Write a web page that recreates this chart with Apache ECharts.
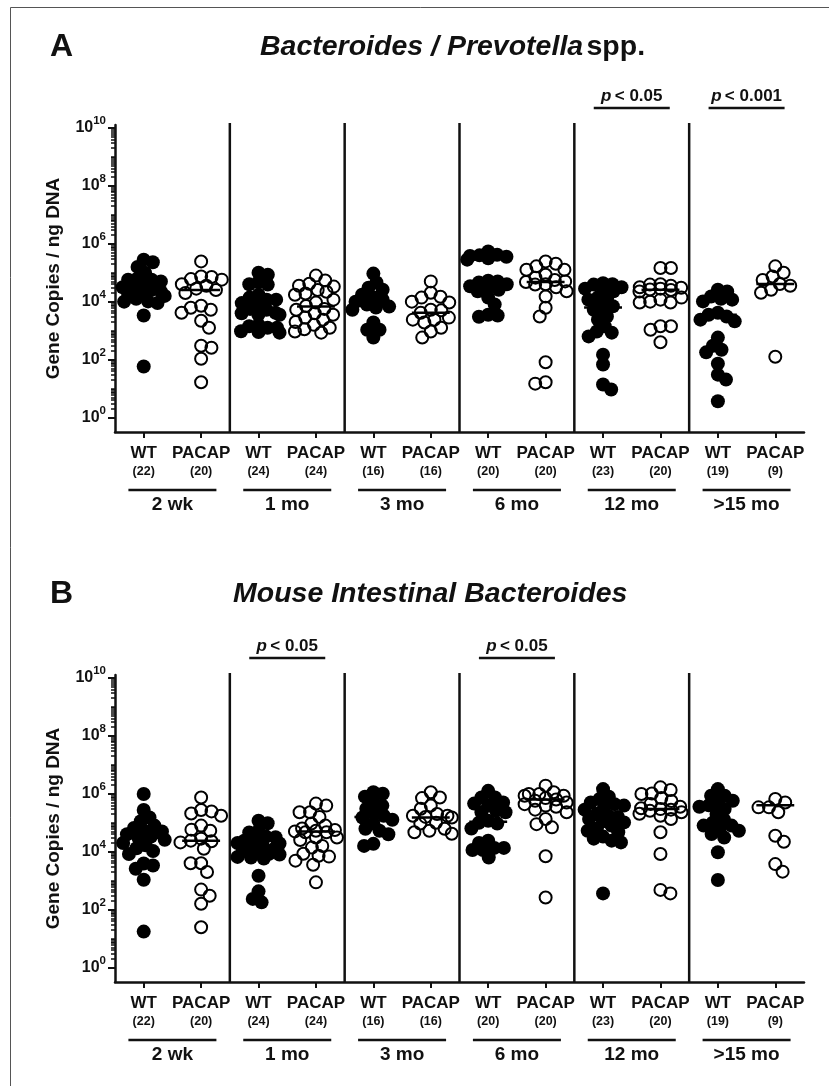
<!DOCTYPE html>
<html><head><meta charset="utf-8">
<script src="https://cdn.jsdelivr.net/npm/echarts@6/dist/echarts.min.js"></script>
<style>html,body{margin:0;padding:0;background:#fff}#c{width:829px;height:1086px}</style>
</head><body><div id="c"></div>
<script>
// ---------- DATA (values are log10 of gene copies / ng DNA) ----------
const ageGroups = ['2 wk', '1 mo', '3 mo', '6 mo', '12 mo', '>15 mo'];
const genotypes = ['WT', 'PACAP'];
const nWT = [22, 24, 16, 20, 23, 19];
const nPACAP = [20, 24, 16, 20, 20, 9];
const yTickExponents = [0, 2, 4, 6, 8, 10];

// Panel A: Bacteroides / Prevotella spp.
const bpWT = [
  [5.45,5.36,5.2,5.0,4.8,4.76,4.76,4.7,4.6,4.5,4.45,4.4,4.36,4.3,4.3,4.2,4.1,4.01,4.0,3.95,3.52,1.76],
  [5.0,4.93,4.67,4.6,4.59,4.24,4.14,4.07,4.07,3.95,3.9,3.75,3.72,3.62,3.6,3.55,3.55,3.2,3.15,3.1,3.1,2.98,2.95,2.93],
  [4.97,4.66,4.48,4.41,4.24,4.14,4.07,4.0,3.9,3.83,3.8,3.72,3.28,3.03,3.03,2.76],
  [5.73,5.62,5.6,5.58,5.55,5.5,5.45,4.72,4.7,4.66,4.6,4.53,4.5,4.41,4.36,4.14,3.9,3.55,3.52,3.48],
  [4.64,4.6,4.59,4.5,4.45,4.41,4.36,4.14,4.1,4.07,3.84,3.79,3.72,3.49,3.38,3.15,2.97,2.93,2.8,2.17,1.83,1.14,0.97],
  [4.41,4.35,4.18,4.1,4.07,4.01,3.62,3.55,3.49,3.38,3.32,2.76,2.48,2.34,2.25,1.86,1.48,1.31,0.56]
];
const bpPACAP = [
  [5.39,4.87,4.85,4.78,4.76,4.6,4.55,4.45,4.4,4.3,3.86,3.79,3.72,3.62,3.34,3.1,2.48,2.41,2.03,1.22],
  [4.9,4.73,4.62,4.55,4.52,4.4,4.34,4.28,4.24,4.07,3.97,3.85,3.75,3.72,3.6,3.55,3.45,3.38,3.3,3.2,3.1,3.05,2.97,2.93],
  [4.7,4.31,4.17,4.14,4.0,3.97,3.72,3.7,3.62,3.45,3.38,3.38,3.28,3.1,2.97,2.76],
  [5.39,5.31,5.22,5.1,5.1,4.93,4.83,4.75,4.7,4.68,4.6,4.59,4.5,4.36,4.18,3.79,3.49,1.91,1.22,1.17],
  [5.16,5.16,4.6,4.59,4.55,4.5,4.48,4.45,4.42,4.4,4.35,4.14,4.07,4.0,3.97,3.97,3.15,3.15,3.03,2.6],
  [5.22,5.0,4.87,4.75,4.61,4.55,4.41,4.31,2.1]
];
const bpMedianWT = [4.4, 3.7, 3.85, 4.63, 3.8, 3.55];
const bpMedianPACAP = [4.4, 3.83, 3.62, 4.68, 4.41, 4.61];
const bpPLabels = ['', '', '', '', '< 0.05', '< 0.001'];

// Panel B: Mouse Intestinal Bacteroides
const mibWT = [
  [5.99,5.44,5.18,5.05,4.9,4.82,4.73,4.7,4.6,4.52,4.45,4.41,4.3,4.22,4.12,4.02,3.92,3.59,3.52,3.41,3.03,1.24],
  [5.07,4.98,4.72,4.66,4.52,4.5,4.41,4.38,4.3,4.28,4.2,4.13,4.1,4.02,4.0,3.93,3.9,3.82,3.8,3.76,3.17,2.63,2.37,2.25],
  [6.05,6.0,5.9,5.7,5.59,5.48,5.31,5.24,5.18,5.1,4.97,4.79,4.72,4.6,4.27,4.2],
  [6.1,5.87,5.87,5.7,5.66,5.59,5.41,5.36,5.36,5.07,5.0,4.97,4.8,4.38,4.3,4.13,4.13,4.06,4.06,3.8],
  [6.16,5.9,5.82,5.7,5.64,5.59,5.53,5.45,5.31,5.24,5.2,5.13,5.05,5.01,4.9,4.8,4.72,4.67,4.52,4.45,4.38,4.32,2.56],
  [6.16,5.93,5.93,5.76,5.7,5.6,5.55,5.47,5.3,5.1,5.0,4.9,4.9,4.78,4.72,4.61,4.49,3.98,3.02]
];
const mibPACAP = [
  [5.87,5.44,5.39,5.32,5.24,4.9,4.76,4.72,4.45,4.38,4.36,4.32,4.1,3.6,3.6,3.3,2.69,2.48,2.2,1.39],
  [5.66,5.59,5.36,5.36,5.2,4.97,4.9,4.8,4.75,4.72,4.7,4.67,4.67,4.49,4.49,4.4,4.2,4.14,3.93,3.86,3.83,3.69,3.55,2.94],
  [6.05,5.87,5.85,5.59,5.48,5.3,5.24,5.24,5.2,5.18,5.0,4.97,4.79,4.72,4.67,4.62],
  [6.28,6.05,5.99,5.99,5.93,5.93,5.85,5.8,5.76,5.7,5.64,5.59,5.55,5.45,5.36,5.13,4.95,4.84,3.84,2.42],
  [6.22,6.13,6.01,5.99,5.85,5.75,5.65,5.55,5.5,5.47,5.45,5.41,5.36,5.31,5.24,5.13,4.67,3.92,2.68,2.56],
  [5.82,5.7,5.53,5.53,5.36,4.55,4.34,3.57,3.31]
];
const mibMedianWT = [4.48, 4.12, 5.2, 5.03, 5.1, 5.01];
const mibMedianPACAP = [4.38, 4.7, 5.18, 5.8, 5.47, 5.6];
const mibPLabels = ['', '< 0.05', '', '< 0.05', '', ''];

// ---------- CHART ----------
const FONT = '"Liberation Sans", Arial, Helvetica, sans-serif';
const Y_MIN = -0.5, Y_MAX = 10.1;
const GRID_H = 307, GRID_LEFT = 115, GRID_RIGHT = 25;
const panels = [
  { top: 125, wt: bpWT, pac: bpPACAP, medW: bpMedianWT, medP: bpMedianPACAP, p: bpPLabels },
  { top: 675, wt: mibWT, pac: mibPACAP, medW: mibMedianWT, medP: mibMedianPACAP, p: mibPLabels }
];
const PX_X = (829 - GRID_LEFT - GRID_RIGHT) / 12;
const PX_Y = GRID_H / (Y_MAX - Y_MIN);

// beeswarm layout (with overlap allowed and max half-width): returns horizontal offsets in category units
function swarm(vals, d, maxHalf) {
  const order = vals.map((v, i) => i).sort((a, b) => vals[b] - vals[a]);
  const placed = [];
  const out = new Array(vals.length);
  order.forEach(i => {
    const y = vals[i] * PX_Y;
    const cands = [0];
    placed.forEach(p => {
      const dy = Math.abs(p.y - y);
      if (dy < d) { const dx = Math.sqrt(d * d - dy * dy); cands.push(p.x + dx, p.x - dx); }
    });
    const bal = placed.reduce((s, p) => s + p.x, 0);
    cands.sort((a, b) => (Math.abs(a) - Math.abs(b)) || ((a * bal) - (b * bal)));
    let x = null;
    for (const c of cands) {
      if (Math.abs(c) > maxHalf + 0.01) continue;
      if (placed.every(p => (p.x - c) * (p.x - c) + (p.y - y) * (p.y - y) >= d * d - 0.01)) { x = c; break; }
    }
    if (x === null) {
      // no free slot within the width: choose the slot with least crowding
      let best = 0, bestScore = Infinity;
      for (let c = -maxHalf; c <= maxHalf + 0.01; c += maxHalf / 4) {
        let s = 0;
        placed.forEach(p => { const dd = Math.hypot(p.x - c, p.y - y); if (dd < d) s += (d - dd); });
        if (s < bestScore) { bestScore = s; best = c; }
      }
      x = best;
    }
    placed.push({ x, y });
    out[i] = x / PX_X;
  });
  return out;
}

const minorTicks = [];
for (let n = 0; n < 10; n++) {
  for (let k = 2; k <= 9; k++) minorTicks.push(n + Math.log10(k));
  if (n % 2 === 1) minorTicks.push(n);
}

const catLabels = [];
for (let g = 0; g < 6; g++) {
  catLabels.push('{a|' + genotypes[0] + '}\n{b|(' + nWT[g] + ')}');
  catLabels.push('{a|' + genotypes[1] + '}\n{b|(' + nPACAP[g] + ')}');
}

const grid = [], xAxis = [], yAxis = [], series = [];

panels.forEach((P, k) => {
  grid.push({ left: GRID_LEFT, right: GRID_RIGHT, top: P.top, height: GRID_H });
  xAxis.push({ type: 'value', gridIndex: k, min: -0.5, max: 11.5, show: false, splitLine: { show: false }, axisLine: { onZero: false } });
  xAxis.push({
    type: 'category', gridIndex: k, position: 'bottom', data: catLabels,
    axisLine: { show: true, onZero: false, lineStyle: { color: '#111', width: 2.5 } },
    axisTick: { show: true, alignWithLabel: true, length: 6, lineStyle: { color: '#111', width: 2 } },
    axisLabel: {
      interval: 0, margin: 12, color: '#111', fontFamily: FONT,
      rich: {
        a: { fontSize: 17, fontWeight: 'bold', lineHeight: 19, fontFamily: FONT, color: '#111' },
        b: { fontSize: 12.5, fontWeight: 'bold', lineHeight: 17, fontFamily: FONT, color: '#111' }
      }
    },
    splitLine: { show: false }
  });
  xAxis.push({
    type: 'category', gridIndex: k, position: 'bottom', offset: 63, data: ageGroups,
    axisLine: { show: false, onZero: false }, axisTick: { show: false },
    axisLabel: { interval: 0, margin: 0, fontSize: 19, fontWeight: 'bold', color: '#111', fontFamily: FONT, lineHeight: 20 },
    splitLine: { show: false }
  });
  yAxis.push({
    type: 'value', gridIndex: k, min: Y_MIN, max: Y_MAX, position: 'left',
    name: 'Gene Copies / ng DNA', nameLocation: 'middle', nameGap: 52,
    nameTextStyle: { fontSize: 19, fontWeight: 'bold', color: '#111', fontFamily: FONT },
    axisLine: { show: true, onZero: false, lineStyle: { color: '#111', width: 2.5 } },
    axisTick: { show: true, length: 7, customValues: yTickExponents, lineStyle: { color: '#111', width: 2 } },
    axisLabel: {
      customValues: yTickExponents, margin: 9, color: '#111',
      formatter: v => '{b|10}{s|' + v + '}',
      rich: {
        b: { fontSize: 16, fontWeight: 'bold', lineHeight: 26, verticalAlign: 'middle', fontFamily: FONT, color: '#111' },
        s: { fontSize: 11.5, fontWeight: 'bold', lineHeight: 12, verticalAlign: 'top', fontFamily: FONT, color: '#111' }
      }
    },
    splitLine: { show: false }
  });
  yAxis.push({
    type: 'value', gridIndex: k, min: Y_MIN, max: Y_MAX, position: 'left',
    axisLine: { show: false, onZero: false },
    axisTick: { show: true, length: 4, customValues: minorTicks, lineStyle: { color: '#111', width: 1.5 } },
    axisLabel: { show: false }, splitLine: { show: false }
  });

  const xv = 3 * k, yv = 2 * k;
  const wtData = [], paData = [];
  for (let g = 0; g < 6; g++) {
    const ow = swarm(P.wt[g], 9.5, 21);
    P.wt[g].forEach((v, i) => wtData.push([2 * g + ow[i], v]));
    const op = swarm(P.pac[g], 10.5, 21);
    P.pac[g].forEach((v, i) => paData.push([2 * g + 1 + op[i], v]));
  }
  series.push({
    type: 'scatter', xAxisIndex: xv, yAxisIndex: yv, data: wtData, symbol: 'circle', symbolSize: 14,
    itemStyle: { color: '#000', opacity: 1 }, silent: true, z: 3
  });
  series.push({
    type: 'scatter', xAxisIndex: xv, yAxisIndex: yv, data: paData, symbol: 'circle', symbolSize: 12,
    itemStyle: { color: 'rgba(255,255,255,0)', borderColor: '#000', borderWidth: 2, opacity: 1 }, silent: true, z: 3
  });
  const medData = [];
  for (let g = 0; g < 6; g++) { medData.push([2 * g, P.medW[g]]); medData.push([2 * g + 1, P.medP[g]]); }
  series.push({
    type: 'custom', xAxisIndex: xv, yAxisIndex: yv, data: medData, z: 5, silent: true, clip: false,
    renderItem: (params, api) => {
      const c1 = api.coord([api.value(0) - 0.33, api.value(1)]);
      const c2 = api.coord([api.value(0) + 0.33, api.value(1)]);
      return { type: 'line', shape: { x1: c1[0], y1: c1[1], x2: c2[0], y2: c2[1] }, style: { stroke: '#000', lineWidth: 2.5 } };
    }
  });
  const sepData = [[1.5, 0], [3.5, 0], [5.5, 0], [7.5, 0], [9.5, 0]];
  series.push({
    type: 'custom', xAxisIndex: xv, yAxisIndex: yv, data: sepData, z: 2, silent: true, clip: false,
    renderItem: (params, api) => {
      const b = api.coord([api.value(0), Y_MIN]);
      const t = api.coord([api.value(0), Y_MAX]);
      return { type: 'line', shape: { x1: b[0], y1: b[1], x2: t[0], y2: t[1] - 2 }, style: { stroke: '#111', lineWidth: 2.5 } };
    }
  });
  const grpData = ageGroups.map((a, g) => [2 * g + 0.5, 0]);
  series.push({
    type: 'custom', xAxisIndex: xv, yAxisIndex: yv, data: grpData, z: 2, silent: true, clip: false,
    renderItem: (params, api) => {
      const b = api.coord([api.value(0), Y_MIN]);
      const y = b[1] + 58;
      return { type: 'line', shape: { x1: b[0] - 44, y1: y, x2: b[0] + 44, y2: y }, style: { stroke: '#111', lineWidth: 2.5 } };
    }
  });
  const pData = [], pTexts = [];
  P.p.forEach((t, g) => { if (t) { pData.push([2 * g + 0.5, 0]); pTexts.push(t); } });
  series.push({
    type: 'custom', xAxisIndex: xv, yAxisIndex: yv, data: pData, z: 2, silent: true, clip: false,
    renderItem: (params, api) => {
      const t = api.coord([api.value(0), Y_MAX]);
      const ly = t[1] - 17;
      return {
        type: 'group', children: [
          { type: 'line', shape: { x1: t[0] - 38, y1: ly, x2: t[0] + 38, y2: ly }, style: { stroke: '#111', lineWidth: 2.5 } },
          {
            type: 'text', x: t[0], y: ly - 12,
            style: {
              text: '{i|p} {n|' + pTexts[params.dataIndex] + '}', align: 'center', verticalAlign: 'middle',
              rich: {
                i: { fontSize: 17, fontWeight: 'bold', fontStyle: 'italic', fontFamily: FONT, fill: '#111' },
                n: { fontSize: 17, fontWeight: 'bold', fontFamily: FONT, fill: '#111' }
              }
            }
          }
        ]
      };
    }
  });
});

const option = {
  animation: false,
  backgroundColor: '#fff',
  grid, xAxis, yAxis, series,
  graphic: [
    { type: 'rect', shape: { x: 10.5, y: 7.5, width: 1000, height: 1200 }, style: { fill: 'none', stroke: '#555', lineWidth: 1 }, silent: true },
    { type: 'text', x: 50, y: 47, style: { text: 'A', fontSize: 32, fontWeight: 'bold', fontFamily: FONT, fill: '#111', verticalAlign: 'middle' } },
    { type: 'text', x: 260, y: 47, style: {
        text: '{i|Bacteroides / Prevotella} {n|spp.}', verticalAlign: 'middle',
        rich: {
          i: { fontSize: 28.5, fontWeight: 'bold', fontStyle: 'italic', fontFamily: FONT, fill: '#111' },
          n: { fontSize: 28.5, fontWeight: 'bold', fontFamily: FONT, fill: '#111' }
        } } },
    { type: 'text', x: 50, y: 594, style: { text: 'B', fontSize: 32, fontWeight: 'bold', fontFamily: FONT, fill: '#111', verticalAlign: 'middle' } },
    { type: 'text', x: 233, y: 594, style: { text: 'Mouse Intestinal Bacteroides', fontSize: 28.5, fontWeight: 'bold', fontStyle: 'italic', fontFamily: FONT, fill: '#111', verticalAlign: 'middle' } }
  ]
};

const chart = echarts.init(document.getElementById('c'), null, { renderer: 'canvas' });
chart.setOption(option);
</script>
</body></html>
